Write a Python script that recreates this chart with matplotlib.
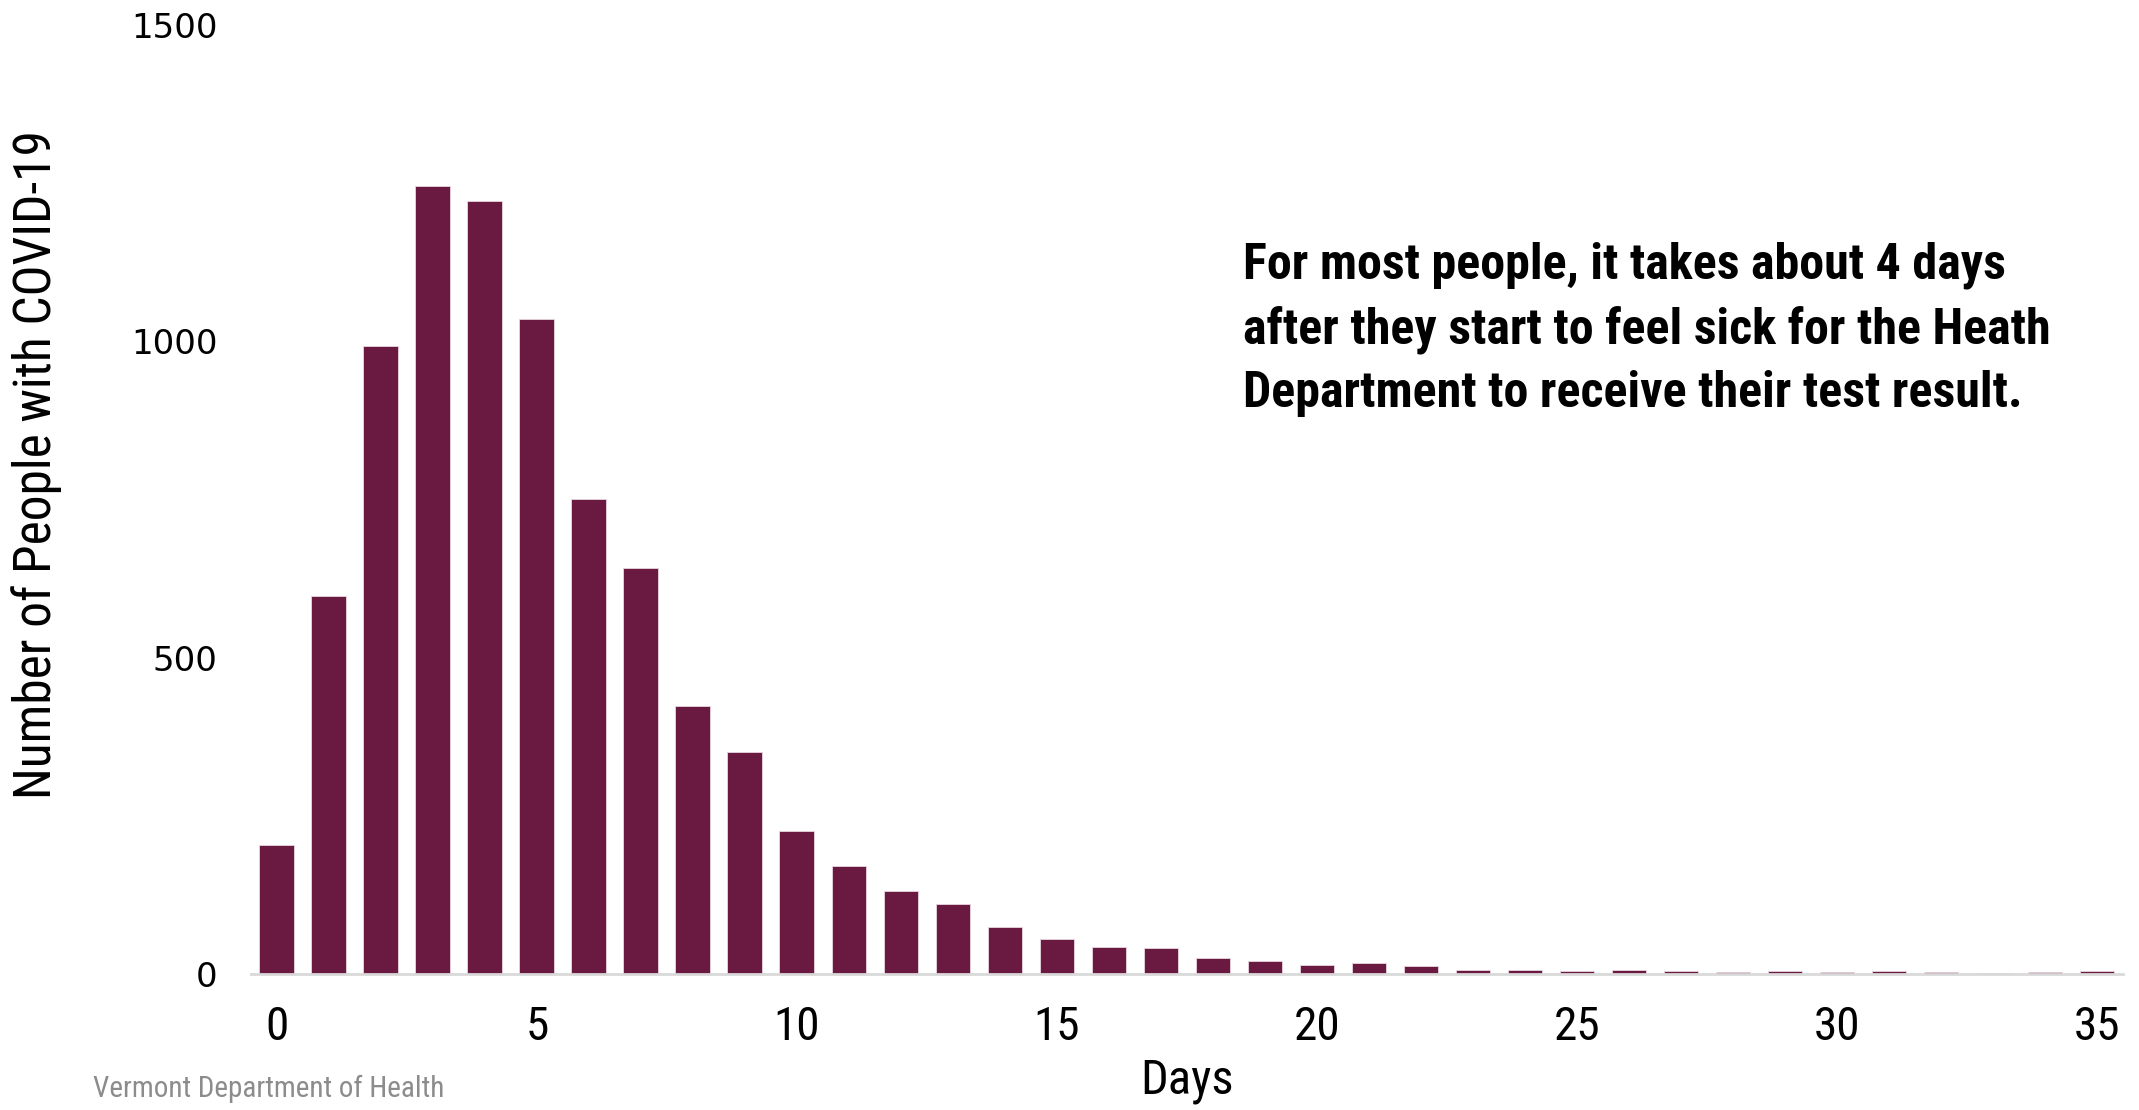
import matplotlib
matplotlib.use("Agg")
import matplotlib.pyplot as plt
from matplotlib import font_manager

# Días desde el inicio de síntomas hasta que el resultado llega al Departamento de Salud
days = list(range(36))
people = [204, 598, 992, 1246, 1222, 1035, 751, 641, 424, 351,
          226, 170, 131, 110, 75, 56, 43, 41, 26, 21,
          14, 18, 13, 6, 7, 5, 6, 4, 3, 4,
          3, 4, 3, 1, 3, 4]
x_ticks = [0, 5, 10, 15, 20, 25, 30, 35]
y_ticks = [0, 500, 1000, 1500]

bar_color = "#6A1A41"

# fuente condensada si existe
names = {f.name for f in font_manager.fontManager.ttflist}
cond = next((n for n in ["Roboto Condensed", "Liberation Sans Narrow", "Open Sans Condensed"] if n in names), None)
if cond:
    cond_kw = dict(family=[cond, "DejaVu Sans"])
else:
    cond_kw = dict(family=["DejaVu Sans"], stretch="condensed")

fig = plt.figure(figsize=(21.39, 11.10), dpi=100)
ax = fig.add_axes([0.1173, 0.1225, 0.8752, 0.855])

ax.bar(days, people, width=0.67, color=bar_color, edgecolor="#e8d6df", linewidth=0.6, zorder=2)

ax.set_xlim(-0.5, 35.5)
ax.set_ylim(0, 1500)
ax.set_xticks(x_ticks)
ax.set_yticks(y_ticks)

for s in ["top", "right", "left"]:
    ax.spines[s].set_visible(False)
ax.spines["bottom"].set_color("#d9d9d9")
ax.spines["bottom"].set_linewidth(2)

ax.tick_params(axis="both", length=0)
ax.tick_params(axis="y", pad=24, labelsize=24.5)
ax.tick_params(axis="x", pad=22)
for lab in ax.get_xticklabels():
    lab.set_fontsize(34)
    lab.set_fontfamily(cond_kw["family"])
    if "stretch" in cond_kw:
        lab.set_fontstretch("condensed")

ax.set_ylabel("Number of People with COVID-19", fontsize=37, labelpad=50, y=0.537, **cond_kw)
ax.set_xlabel("Days", fontsize=35, labelpad=7, **cond_kw)

ax.text(0.530, 0.772, "For most people, it takes about 4 days\n"
        "after they start to feel sick for the Heath\n"
        "Department to receive their test result.",
        transform=ax.transAxes, fontsize=36, fontweight="black",
        linespacing=1.43, va="top", ha="left", **cond_kw)

fig.text(0.0435, 0.012, "Vermont Department of Health", fontsize=21,
         color="#8c8c8c", **cond_kw)

fig.savefig("out.png", dpi=100)
